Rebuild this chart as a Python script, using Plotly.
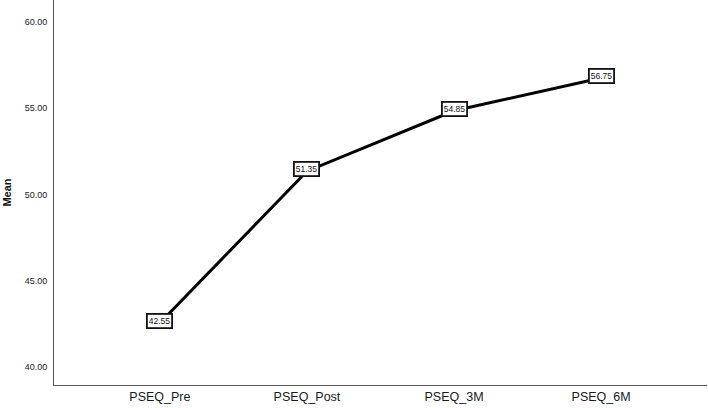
import plotly.graph_objects as go

categories = ["PSEQ_Pre", "PSEQ_Post", "PSEQ_3M", "PSEQ_6M"]
means = [42.55, 51.35, 54.85, 56.75]
y_ticks = [40, 45, 50, 55, 60]

fig = go.Figure()
fig.add_trace(go.Scatter(
    x=list(range(len(categories))), y=means, mode="lines",
    line=dict(color="black", width=3), hoverinfo="skip", showlegend=False))

for i, v in enumerate(means):
    fig.add_annotation(x=i, y=v, text=f"{v:.2f}", showarrow=False, yshift=2,
                       font=dict(family="Liberation Sans, Arial", size=8.5, color="#111"),
                       bgcolor="white", bordercolor="#111", borderwidth=1.8, borderpad=1)

fig.update_layout(
    width=708, height=408, margin=dict(l=54, r=1, t=0, b=23),
    plot_bgcolor="white", paper_bgcolor="white",
    font=dict(family="Liberation Sans, Arial", color="#222"),
    xaxis=dict(range=[-0.72, 3.72], tickmode="array",
               tickvals=list(range(len(categories))), ticktext=categories,
               showgrid=False, zeroline=False, showline=True, linecolor="#555",
               linewidth=1, ticks="", tickfont=dict(size=12.5, color="#1a1a1a")),
    yaxis=dict(range=[38.96, 61.27], tickmode="array", tickvals=y_ticks,
               ticktext=[f"{t:.2f}" for t in y_ticks],
               showgrid=False, zeroline=False, showline=True, linecolor="#555",
               linewidth=1, ticks="", ticklabelstandoff=4,
               tickfont=dict(size=9, color="#1a1a1a"),
               title=dict(text="<b>Mean</b>", font=dict(size=11, color="#111"), standoff=10)),
)

fig.write_html("out.html")
